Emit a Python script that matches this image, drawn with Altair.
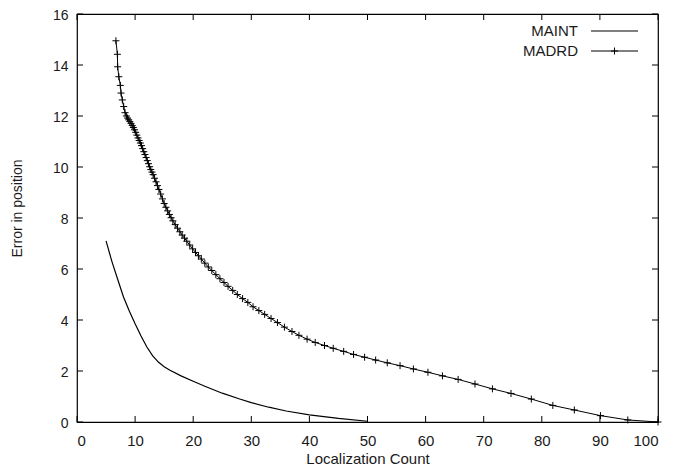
import altair as alt
import pandas as pd

series_names = ["MAINT", "MADRD"]

maint_x = [5.0, 6.0, 7.0, 8.0, 9.0, 10.0, 11.0, 12.0, 13.0, 14.0, 15.0, 16.0, 18.0, 20.0,
           22.0, 25.0, 28.0, 30.0, 33.0, 36.0, 40.0, 45.0, 50.0]
maint_y = [7.1, 6.3, 5.6, 4.9, 4.35, 3.85, 3.38, 2.95, 2.6, 2.35, 2.17, 2.03, 1.8, 1.6,
           1.4, 1.13, 0.9, 0.76, 0.58, 0.43, 0.28, 0.14, 0.03]

madrd_x = [6.7, 6.95, 7.0, 7.2, 7.46, 7.58, 7.8, 8.04, 8.27, 8.5,
           8.7, 8.9, 9.1, 9.3, 9.5, 9.7, 9.9, 10.1, 10.3, 10.5,
           10.7, 10.9, 11.1, 11.3, 11.5, 11.7, 11.9, 12.1, 12.3, 12.5,
           12.7, 12.9, 13.1, 13.35, 13.6, 13.85, 14.1, 14.4, 14.7, 15.0,
           15.3, 15.6, 15.9, 16.2, 16.5, 16.9, 17.3, 17.7, 18.1, 18.5,
           18.9, 19.4, 19.9, 20.4, 20.9, 21.4, 22.0, 22.6, 23.2, 23.9,
           24.6, 25.3, 26.0, 26.8, 27.6, 28.5, 29.4, 30.3, 31.3, 32.3,
           33.4, 34.5, 35.7, 37.0, 38.2, 39.6, 41.0, 42.6, 44.1, 45.9,
           47.6, 49.5, 51.4, 53.4, 55.6, 57.9, 60.4, 62.9, 65.6, 68.5,
           71.5, 74.7, 78.2, 81.9, 85.6, 90.1, 94.8, 100.0]
madrd_y = [14.95, 14.42, 13.93, 13.54, 13.2, 12.9, 12.63, 12.37, 12.13, 12.0,
           11.92, 11.85, 11.78, 11.71, 11.63, 11.55, 11.46, 11.36, 11.25, 11.14,
           11.04, 10.94, 10.84, 10.72, 10.6, 10.49, 10.37, 10.25, 10.13, 10.01,
           9.9, 9.8, 9.7, 9.56, 9.42, 9.27, 9.12, 8.94, 8.75, 8.57,
           8.42, 8.28, 8.14, 8.01, 7.89, 7.74, 7.6, 7.46, 7.33, 7.21,
           7.09, 6.94, 6.79, 6.65, 6.52, 6.39, 6.23, 6.08, 5.94, 5.78,
           5.62, 5.47, 5.32, 5.16, 5.0, 4.84, 4.69, 4.52, 4.37, 4.22,
           4.06, 3.9, 3.72, 3.55, 3.4, 3.25, 3.12, 3.0, 2.89, 2.77,
           2.65, 2.54, 2.43, 2.32, 2.21, 2.08, 1.95, 1.81, 1.67, 1.49,
           1.3, 1.12, 0.9, 0.65, 0.47, 0.25, 0.08, 0.0]

x_ticks = [0, 10, 20, 30, 40, 50, 60, 70, 80, 90, 100]
y_ticks = [0, 2, 4, 6, 8, 10, 12, 14, 16]

assert len(madrd_x) == len(madrd_y)
assert len(maint_x) == len(maint_y)

W, H = 581, 408
TICK = 6
FONT = "Liberation Sans"
TXT = "#1a1a1a"
PLUS = "M-1,0L1,0M0,-1L0,1"

maint_df = pd.DataFrame({"x": maint_x, "y": maint_y})
madrd_df = pd.DataFrame({"x": madrd_x, "y": madrd_y})
xt_df = pd.DataFrame({"x": x_ticks})
yt_df = pd.DataFrame({"y": y_ticks})

xs = alt.Scale(domain=[0, 100], nice=False, zero=False)
ys = alt.Scale(domain=[0, 16], nice=False, zero=False)

x_axis = alt.Axis(values=x_ticks, ticks=False, domain=False, grid=False,
                  labelPadding=11, labelFontSize=15, labelFont=FONT, labelColor=TXT,
                  title="Localization Count", titleFontSize=15, titleFont=FONT,
                  titleFontWeight="normal", titleColor=TXT, titlePadding=3)
y_axis = alt.Axis(values=y_ticks, ticks=False, domain=False, grid=False,
                  labelPadding=9, labelFontSize=14, labelFont=FONT, labelColor=TXT,
                  labelOffset=1,
                  title="Error in position", titleFontSize=14, titleFont=FONT,
                  titleFontWeight="normal", titleColor=TXT, titlePadding=28,
                  titleY=194)

maint_line = alt.Chart(maint_df).mark_line(color="black", strokeWidth=1.2).encode(
    x=alt.X("x:Q", scale=xs, axis=x_axis),
    y=alt.Y("y:Q", scale=ys, axis=y_axis),
)
madrd_line = alt.Chart(madrd_df).mark_line(color="black", strokeWidth=1).encode(
    x=alt.X("x:Q", scale=xs),
    y=alt.Y("y:Q", scale=ys),
)
madrd_pts = alt.Chart(madrd_df).mark_point(shape=PLUS, filled=False, color="black",
                                           size=49, strokeWidth=1, opacity=1).encode(
    x=alt.X("x:Q", scale=xs),
    y=alt.Y("y:Q", scale=ys),
)

tick_style = dict(color="black", strokeWidth=1)
bottom_ticks = alt.Chart(xt_df).mark_rule(**tick_style).encode(
    x=alt.X("x:Q", scale=xs), y=alt.value(H), y2=alt.value(H - TICK))
top_ticks = alt.Chart(xt_df).mark_rule(**tick_style).encode(
    x=alt.X("x:Q", scale=xs), y=alt.value(0), y2=alt.value(TICK))
left_ticks = alt.Chart(yt_df).mark_rule(**tick_style).encode(
    y=alt.Y("y:Q", scale=ys), x=alt.value(0), x2=alt.value(TICK))
right_ticks = alt.Chart(yt_df).mark_rule(**tick_style).encode(
    y=alt.Y("y:Q", scale=ys), x=alt.value(W), x2=alt.value(W - TICK))

# legend (gnuplot style: label left, sample right)
legend_layers = []
LX_TEXT, LX0, LX1, LY0, LDY = 501, 514, 561, 17, 20
for i, name in enumerate(series_names):
    ly = LY0 + LDY * i
    legend_layers.append(
        alt.Chart(maint_df).mark_text(align="right", baseline="middle", fontSize=15,
                                      font=FONT, color=TXT, text=name).encode(
            x=alt.value(LX_TEXT), y=alt.value(ly)).transform_filter("datum.x == 5")
    )
    legend_layers.append(
        alt.Chart(maint_df).mark_rule(color="black", strokeWidth=1.2).encode(
            x=alt.value(LX0), x2=alt.value(LX1), y=alt.value(ly)).transform_filter("datum.x == 5")
    )
    if name == "MADRD":
        legend_layers.append(
            alt.Chart(maint_df).mark_point(shape=PLUS, filled=False, color="black",
                                           size=49, strokeWidth=1, opacity=1).encode(
                x=alt.value((LX0 + LX1) / 2), y=alt.value(ly)).transform_filter("datum.x == 5")
        )

chart = alt.layer(
    maint_line, madrd_line, madrd_pts,
    bottom_ticks, top_ticks, left_ticks, right_ticks,
    *legend_layers,
).properties(
    width=W, height=H,
    autosize=alt.AutoSizeParams(type="none"),
    padding={"left": 69, "top": 6, "right": 9, "bottom": 44},
    background="white",
).configure_view(stroke="black", strokeWidth=1.2)

chart.save("out.html", embed_options={"renderer": "svg", "actions": False})
